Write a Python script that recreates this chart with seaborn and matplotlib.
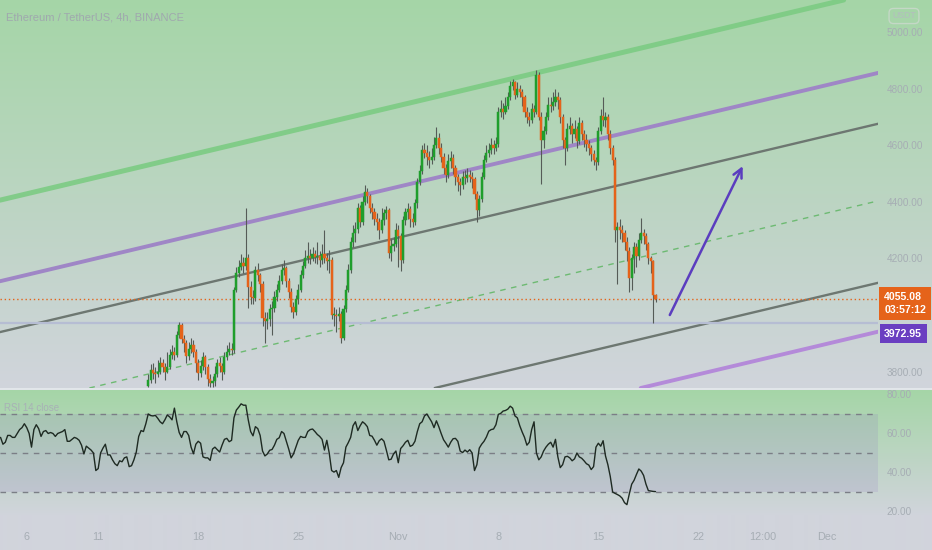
import numpy as np
import pandas as pd
import matplotlib
matplotlib.use("Agg")
import matplotlib.pyplot as plt
import seaborn as sns

# ---------------- data ----------------
# time unit: days after Oct 1 00:00 (4h candles)
first_candle_day = 13.5
first_open = 3750
closes = [3770, 3805, 3795, 3790, 3800, 3830, 3815, 3800, 3815, 3860,
          3870, 3860, 3930, 3965, 3915, 3900, 3855, 3880, 3895, 3870,
          3830, 3795, 3820, 3850, 3815, 3775, 3760, 3765, 3790, 3830,
          3820, 3800, 3850, 3870, 3880, 3875, 4090, 4150, 4170, 4185,
          4175, 4200, 4100, 4065, 4060, 4160, 4140, 4110, 3990, 3980,
          3985, 4020, 4025, 4065, 4090, 4120, 4160, 4165, 4120, 4080,
          4030, 4010, 4055, 4090, 4140, 4175, 4200, 4210, 4200, 4215,
          4205, 4210, 4195, 4215, 4200, 4190, 4195, 4000, 4000, 3995,
          4005, 3920, 4020, 4090, 4160, 4260, 4290, 4305, 4380, 4330,
          4400, 4435, 4420, 4380, 4365, 4340, 4330, 4300, 4335, 4360,
          4370, 4220, 4245, 4250, 4300, 4280, 4195, 4335, 4365, 4375,
          4340, 4330, 4395, 4470, 4510, 4585, 4575, 4560, 4550, 4560,
          4600, 4625, 4590, 4560, 4520, 4495, 4545, 4555, 4520, 4490,
          4470, 4460, 4490, 4485, 4495, 4490, 4480, 4430, 4370, 4410,
          4490, 4550, 4575, 4585, 4600, 4590, 4605, 4720, 4730, 4720,
          4740, 4770, 4810, 4825, 4780, 4800, 4790, 4770, 4720, 4700,
          4690, 4730, 4720, 4850, 4700, 4620, 4650, 4700, 4745, 4740,
          4755, 4770, 4760, 4700, 4620, 4590, 4660, 4670, 4640, 4660,
          4615, 4680, 4640, 4620, 4605, 4590, 4570, 4550, 4540, 4650,
          4705, 4690, 4700, 4640, 4590, 4550, 4300, 4310, 4300, 4290,
          4260, 4225, 4130, 4200, 4240, 4210, 4265, 4290, 4280, 4250,
          4200, 4190, 4070, 4055.08]
highs = [3790, 3825, 3830, 3815, 3840, 3850, 3845, 3830, 3870, 3880,
         3895, 3885, 3945, 3975, 3970, 3930, 3910, 3905, 3920, 3910,
         3880, 3845, 3840, 3870, 3860, 3825, 3790, 3785, 3820, 3845,
         3850, 3830, 3870, 3895, 3905, 3900, 4100, 4170, 4195, 4215,
         4205, 4380, 4215, 4120, 4090, 4175, 4185, 4150, 4120, 4010,
         4010, 4040, 4050, 4085, 4110, 4140, 4180, 4195, 4175, 4130,
         4095, 4045, 4070, 4110, 4160, 4190, 4230, 4260, 4235, 4240,
         4230, 4260, 4225, 4250, 4300, 4220, 4230, 4205, 4030, 4020,
         4030, 4015, 4035, 4105, 4180, 4275, 4320, 4330, 4395, 4390,
         4420, 4460, 4450, 4430, 4395, 4380, 4360, 4345, 4380, 4375,
         4385, 4380, 4270, 4275, 4325, 4320, 4290, 4350, 4380, 4395,
         4385, 4360, 4410, 4485, 4530, 4600, 4610, 4600, 4580, 4590,
         4630, 4665, 4645, 4610, 4575, 4535, 4570, 4580, 4570, 4530,
         4500, 4485, 4510, 4515, 4520, 4515, 4505, 4490, 4440, 4425,
         4505, 4565, 4600, 4610, 4625, 4620, 4630, 4735, 4760, 4750,
         4770, 4790, 4830, 4835, 4830, 4825, 4815, 4800, 4780, 4735,
         4720, 4750, 4745, 4868, 4860, 4720, 4670, 4720, 4770, 4770,
         4790, 4800, 4790, 4770, 4710, 4630, 4680, 4700, 4680, 4690,
         4670, 4700, 4690, 4655, 4640, 4620, 4600, 4585, 4560, 4665,
         4730, 4770, 4720, 4710, 4655, 4600, 4560, 4330, 4340, 4320,
         4300, 4275, 4240, 4215, 4260, 4255, 4290, 4345, 4305, 4290,
         4260, 4210, 4195, 4075]
lows = [3745, 3760, 3775, 3760, 3780, 3790, 3800, 3770, 3795, 3810,
        3845, 3840, 3850, 3920, 3900, 3870, 3830, 3840, 3865, 3850,
        3800, 3770, 3780, 3805, 3790, 3750, 3745, 3745, 3750, 3780,
        3800, 3770, 3790, 3840, 3860, 3860, 3865, 4080, 4135, 4160,
        4150, 4160, 4025, 4040, 4040, 4050, 4120, 4080, 3960, 3900,
        3950, 3960, 3930, 4010, 4050, 4080, 4110, 4140, 4100, 4060,
        4010, 3990, 4000, 4040, 4080, 4130, 4165, 4185, 4180, 4190,
        4185, 4180, 4170, 4180, 4185, 4160, 4150, 3985, 3960, 3940,
        3980, 3900, 3910, 4010, 4080, 4150, 4240, 4260, 4290, 4310,
        4320, 4390, 4395, 4360, 4340, 4320, 4300, 4270, 4290, 4320,
        4340, 4200, 4190, 4225, 4240, 4170, 4155, 4185, 4320, 4340,
        4310, 4310, 4320, 4380, 4460, 4500, 4555, 4530, 4520, 4535,
        4550, 4590, 4570, 4540, 4500, 4470, 4485, 4520, 4500, 4460,
        4440, 4425, 4445, 4465, 4470, 4470, 4450, 4410, 4330, 4350,
        4400, 4480, 4540, 4560, 4570, 4570, 4580, 4595, 4700, 4695,
        4710, 4730, 4760, 4795, 4765, 4770, 4770, 4740, 4700, 4680,
        4670, 4680, 4700, 4710, 4690, 4465, 4590, 4640, 4690, 4720,
        4725, 4740, 4730, 4680, 4590, 4530, 4580, 4640, 4610, 4625,
        4590, 4605, 4620, 4595, 4580, 4565, 4545, 4530, 4515, 4530,
        4640, 4670, 4665, 4620, 4570, 4530, 4260, 4110, 4270, 4260,
        4230, 4190, 4080, 4090, 4150, 4170, 4195, 4255, 4250, 4230,
        4180, 4150, 3973, 4045]

# RSI(14) per 4h candle, starting 62 candles before the first visible candle
rsi_first_day = 13.5 - 62 / 6
rsi = [58, 54.5, 55.5, 59, 59, 58, 58, 60, 62, 63,
       65, 63, 60, 53, 62, 64.5, 62.5, 58.5, 61, 61.5,
       60, 60.5, 60, 58.5, 60, 60.5, 61, 62, 56, 56,
       57, 58, 57.5, 56.5, 54, 49.5, 53.5, 52.5, 51.5, 50,
       41, 42, 50, 52.5, 54.5, 49, 49, 46.5, 44.5, 43.5,
       46, 45.5, 47.5, 48, 43, 43.5, 46.5, 50.5, 58.5, 61.5,
       61, 65, 70, 69.2, 69, 69.3, 67.8, 66, 65, 67,
       69.5, 68.5, 67, 73, 66, 60.5, 58, 61, 61, 59,
       53, 49.6, 54.5, 56, 55, 48, 47.5, 47.5, 46.2, 52,
       53, 51.7, 50.5, 54, 57, 57.5, 55.8, 56.5, 68, 72,
       73.5, 75.2, 74.5, 74.5, 67, 61, 58.8, 63.5, 62.5, 59,
       51, 48.5, 49.5, 51.4, 51.8, 54, 57, 57.8, 61, 60,
       56, 52, 47.5, 49.5, 53, 56.5, 58.5, 58, 58, 61,
       62, 62.3, 61, 59.5, 58.5, 57, 51.5, 56.5, 50, 41,
       40.2, 41, 37.5, 42.5, 45, 53, 55.3, 58, 64, 66,
       61.5, 64, 66, 65, 63.5, 59, 58.6, 56.5, 54, 56.3,
       57.3, 56, 51.4, 46.5, 46.8, 49.5, 51, 45, 52.3, 53.7,
       55.5, 56.5, 53.4, 54, 56, 61, 65, 66, 69, 70,
       68, 66, 63, 66.5, 63.5, 60, 56.8, 55, 53, 55.5,
       57.3, 57.5, 56, 51, 50.2, 51.5, 50.5, 51.7, 50, 41,
       44, 52.5, 54.5, 56, 58.2, 61.2, 62, 62.3, 64.5, 69.8,
       70.3, 71.5, 71.8, 72.5, 74, 73, 69, 68, 64, 60.8,
       58, 54, 55.5, 62, 66, 50, 46.5, 48, 51, 53,
       54.5, 55.5, 53, 57, 48, 42.5, 44, 48, 48.3, 47.5,
       46, 47, 50, 48, 47.3, 46, 44.5, 43.8, 41.5, 43,
       53, 55, 53.5, 56.3, 48.5, 44, 38, 30, 29.3, 28.7,
       28, 26.8, 24.5, 23.5, 29, 34, 36, 39, 41.8, 40.7,
       38.5, 34, 30.7, 30.5, 30.3, 30.2]
rsi_levels = [70, 50, 30]

# parallel channel: level of each line on Nov 1 (day 31), slope in price/day
channel_anchor_day = 31
channel_slope = 12.0
channel_green = 4741
channel_purple = [4454, 3538]
channel_grey = [4274, 3711]
channel_mid = 4001

last_price = closes[-1]
low_line = 3972.95
countdown = "03:57:12"
arrow_from = (50.0, 4000)
arrow_to = (55.1, 4527)

date_ticks = [5, 10, 17, 24, 31, 38, 45, 52, 56.5, 61]
date_labels = ["6", "11", "18", "25", "Nov", "8", "15", "22", "12:00", "Dec"]
price_ticks = [3800, 4200, 4400, 4600, 4800, 5000]
rsi_ticks = [20, 40, 60, 80]
title = "Ethereum / TetherUS, 4h, BINANCE"

# ---------------- build tables ----------------
n = len(closes)
opens = [first_open] + closes[:-1]
candles = pd.DataFrame({
    "day": [first_candle_day + i / 6 for i in range(n)],
    "open": opens, "high": highs, "low": lows, "close": closes})
candles["up"] = candles["close"] >= candles["open"]
rsi_df = pd.DataFrame({"day": [rsi_first_day + k / 6 for k in range(len(rsi))],
                       "rsi": rsi})

# ---------------- style ----------------
sns.set_theme(style="white")
plt.rcParams["font.family"] = ["Liberation Sans", "DejaVu Sans"]
W, H = 932, 550
fig = plt.figure(figsize=(W / 100, H / 100), dpi=100)

# background gradient
top_c = np.array([165, 214, 167]) / 255
bot_c = np.array([209, 212, 220]) / 255
rows = np.zeros((H, 1, 3))
for y in range(H):
    if y < 388:
        t = y / 388
    elif y < 390:
        rows[y, 0] = np.array([226, 230, 234]) / 255
        continue
    elif y < 515:
        t = (y - 390) / 125
    else:
        t = 1.0
    rows[y, 0] = top_c * (1 - t) + bot_c * t
bg = fig.add_axes([0, 0, 1, 1], zorder=-5)
bg.imshow(rows, aspect="auto", extent=[0, 1, 0, 1], interpolation="bilinear")
bg.set_axis_off()

xlim = (3.128, 64.57)
axw = 878 / W
ax = fig.add_axes([0, 1 - 388 / H, axw, 388 / H])
ax2 = fig.add_axes([0, 1 - 515 / H, axw, 125 / H])
for a in (ax, ax2):
    a.set_facecolor("none")
    for s in a.spines.values():
        s.set_visible(False)
    a.set_xlim(*xlim)
ax.set_ylim(3741.6, 5115)
ax2.set_ylim(18.2, 82.3)

tick_col = "#a6adb4"
# ---------------- main panel ----------------
def chan(level, **kw):
    ax.axline((channel_anchor_day, level), slope=channel_slope, **kw)

chan(channel_green, color="#7ccb83", lw=3.6, alpha=0.9, zorder=1)
chan(channel_purple[0], color="#9f86c6", lw=2.8, zorder=1)
chan(channel_purple[1], color="#b48ad9", lw=2.8, zorder=1)
chan(channel_grey[0], color="#6d7771", lw=1.7, zorder=1)
chan(channel_grey[1], color="#6d7771", lw=1.7, zorder=1)
chan(channel_mid, color="#6dba72", lw=1.0, dashes=(4, 4), zorder=1)

ax.axhline(low_line, color="#b6bdd3", lw=1.6, zorder=1)
ax.axhline(last_price, color="#e5631a", lw=1.0, dashes=(1, 2), zorder=1)

ax.vlines(candles["day"], candles["low"], candles["high"],
          color="#555b57", lw=0.8, zorder=2)
body_h = (candles["close"] - candles["open"]).where(
    (candles["close"] - candles["open"]).abs() > 4, 4)
colors = np.where(candles["up"], "#1f9e2c", "#e5631a")
ax.bar(candles["day"], body_h, bottom=candles["open"], width=0.15,
       color=colors, edgecolor=colors, linewidth=0.35, zorder=3)

ax.annotate("", xy=arrow_to, xytext=arrow_from,
            arrowprops=dict(arrowstyle="->", color="#5b3dbf", lw=1.8,
                            mutation_scale=16, shrinkA=0, shrinkB=0), zorder=4)

ax.set_xticks([])
ax.yaxis.tick_right()
ax.set_yticks(price_ticks)
ax.set_yticklabels([f"{v:.2f}" for v in price_ticks])
ax.tick_params(axis="y", length=0, pad=6, labelsize=7.2, labelcolor=tick_col)

# price labels
ax.annotate(f"{last_price:.2f}\n{countdown}", xy=(1.0, last_price),
            xycoords=ax.get_yaxis_transform(), xytext=(4.5, 5.0),
            textcoords="offset points", ha="left", va="top", fontsize=7.6,
            color="white", fontweight="bold", linespacing=1.3,
            bbox=dict(boxstyle="square,pad=0.5", fc="#e5631a", ec="none"),
            annotation_clip=False, zorder=6)
ax.annotate(f"{low_line:.2f}", xy=(1.0, low_line),
            xycoords=ax.get_yaxis_transform(), xytext=(4.5, -8),
            textcoords="offset points", ha="left", va="center", fontsize=7.6,
            color="white", fontweight="bold",
            bbox=dict(boxstyle="square,pad=0.42", fc="#6a3fc1", ec="none"),
            annotation_clip=False, zorder=5)

# ---------------- RSI panel ----------------
ax2.axhspan(rsi_levels[-1], rsi_levels[0], color="#7e57c2", alpha=0.12, lw=0)
for lv in rsi_levels:
    ax2.axhline(lv, color="#7b7e86", lw=1.0, dashes=(4, 4))
sns.lineplot(data=rsi_df, x="day", y="rsi", ax=ax2, color="#1e2a22", lw=1.0)
ax2.set_xlabel("")
ax2.set_ylabel("")
ax2.yaxis.tick_right()
ax2.set_yticks(rsi_ticks)
ax2.set_yticklabels([f"{v:.2f}" for v in rsi_ticks])
ax2.set_xticks(date_ticks)
ax2.set_xticklabels(date_labels)
ax2.tick_params(axis="y", length=0, pad=6, labelsize=7.2, labelcolor=tick_col)
ax2.tick_params(axis="x", length=0, pad=12, labelsize=7.8, labelcolor=tick_col)

# ---------------- texts ----------------
fig.text(6 / W, 1 - 18 / H, title, fontsize=8.0, color="#a0a8ae",
         va="center", ha="left")
fig.text(4 / W, 1 - 408 / H, "RSI 14 close", fontsize=7.0, color="#a8b0b6",
         va="center", ha="left")
fig.text(904 / W, 1 - 16 / H, "USDT", fontsize=6.3, color="#b4bcc0",
         va="center", ha="center",
         bbox=dict(boxstyle="round,pad=0.35,rounding_size=0.5", fc="none",
                   ec="#c4d8c6", lw=1.0))

fig.savefig("out.png", dpi=100)
